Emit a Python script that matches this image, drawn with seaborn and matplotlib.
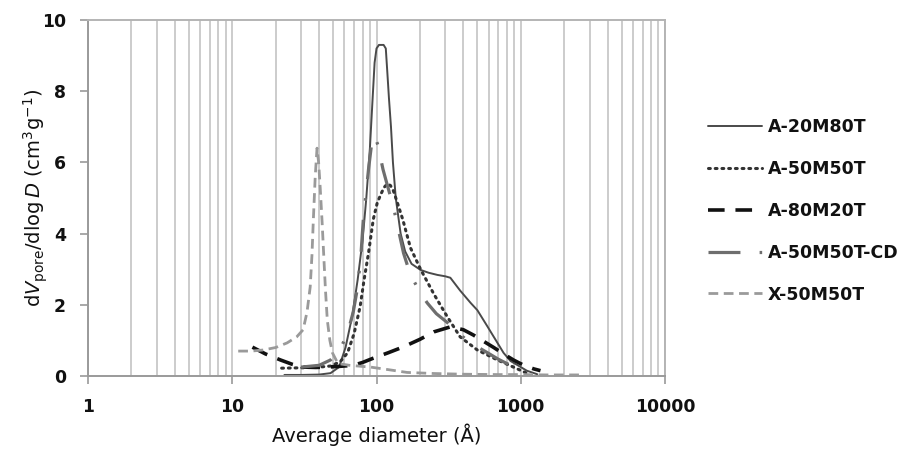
import matplotlib
matplotlib.use("Agg")
import matplotlib.pyplot as plt
import seaborn as sns
import numpy as np
from matplotlib.ticker import LogLocator, NullFormatter, FixedLocator

sns.set_theme(style="white")
plt.rcParams['font.family'] = ['DejaVu Sans']
plt.rcParams['mathtext.fontset'] = 'dejavusans'

# A-20M80T (solid)
d_a20 = [23, 30, 40, 48, 55, 61, 68, 74, 80, 85, 90, 94, 97, 100, 104, 108, 112, 116, 119, 122, 126, 130, 136, 147, 158, 175, 202, 230, 264, 300, 325, 380, 450, 500, 590, 650, 760, 850, 955, 1100, 1300]
v_a20 = [0.03, 0.03, 0.04, 0.08, 0.25, 0.8, 1.7, 2.7, 3.8, 5.0, 6.4, 7.8, 8.8, 9.2, 9.3, 9.3, 9.3, 9.2, 8.5, 7.8, 7.0, 6.0, 5.0, 4.0, 3.5, 3.15, 2.98, 2.9, 2.84, 2.8, 2.76, 2.4, 2.05, 1.85, 1.38, 1.1, 0.65, 0.42, 0.3, 0.15, 0.05]

# A-50M50T (dotted)
d_a50 = [22, 30, 40, 48, 56, 63, 70, 77, 82, 88, 95, 101, 107, 113, 119, 125, 131, 140, 152, 172, 202, 250, 310, 380, 500, 690, 890, 1100]
v_a50 = [0.22, 0.23, 0.25, 0.28, 0.4, 0.65, 1.2, 1.95, 2.7, 3.45, 4.4, 4.85, 5.1, 5.3, 5.4, 5.35, 5.2, 4.85, 4.4, 3.6, 3.0, 2.3, 1.66, 1.1, 0.73, 0.45, 0.25, 0.08]

# A-80M20T (dashed)
d_a80 = [13.8, 17, 21.6, 26, 31, 38, 45.6, 55, 69, 80, 95, 120, 154, 200, 250, 325, 400, 470, 550, 650, 760, 890, 1050, 1230, 1370]
v_a80 = [0.81, 0.62, 0.45, 0.33, 0.25, 0.24, 0.25, 0.27, 0.3, 0.38, 0.5, 0.65, 0.82, 1.03, 1.24, 1.38, 1.3, 1.15, 0.98, 0.8, 0.62, 0.45, 0.3, 0.2, 0.15]

# A-50M50T-CD (dash-dot)
d_cd = [30, 40, 48, 56, 63, 69, 74, 78, 81, 85, 88, 93, 97, 102, 111, 120, 131, 142, 154, 167, 180, 200, 225, 260, 310, 360, 425, 500, 590, 700, 850, 1000]
v_cd = [0.25, 0.3, 0.45, 0.75, 1.2, 1.8, 2.5, 3.4, 4.4, 5.2, 5.8, 6.6, 6.75, 6.5, 5.8, 5.3, 4.75, 4.1, 3.45, 3.0, 2.7, 2.35, 2.05, 1.75, 1.5, 1.25, 1.0, 0.82, 0.65, 0.47, 0.3, 0.12]

# X-50M50T (short dashes)
d_x = [11, 13.5, 16.4, 20, 24, 28, 31, 33, 34.7, 35.7, 36.5, 37.6, 38.7, 39.7, 40.7, 42, 43, 44.3, 45.6, 47.5, 49.5, 54, 65, 91, 120, 163, 250, 400, 700, 1000, 1500, 2000, 2700]
v_x = [0.7, 0.7, 0.73, 0.8, 0.93, 1.1, 1.3, 1.8, 2.5, 3.4, 4.4, 5.6, 6.4, 6.0, 5.3, 4.3, 3.45, 2.4, 1.57, 1.0, 0.65, 0.35, 0.3, 0.25, 0.18, 0.1, 0.07, 0.05, 0.04, 0.04, 0.03, 0.03, 0.03]

labels = ["A-20M80T", "A-50M50T", "A-80M20T", "A-50M50T-CD", "X-50M50T"]
x_ticks = [1, 10, 100, 1000, 10000]
y_ticks = [0, 2, 4, 6, 8, 10]

fig = plt.figure(figsize=(9.09, 4.54), dpi=100)
ax = fig.add_axes([88/909, 1-376/454, (665-88)/909, (376-20)/454])

series = [
    (d_a20, v_a20, dict(color="#4a4a4a", lw=1.4, linestyle="-")),
    (d_a50, v_a50, dict(color="#333333", lw=2.2, linestyle=(0, (0.6, 1.6)), dash_capstyle="round")),
    (d_a80, v_a80, dict(color="#111111", lw=2.6, linestyle=(0, (4.6, 3)))),
    (d_cd, v_cd, dict(color="#6e6e6e", lw=2.3, linestyle=(0, (10, 6, 0.8, 6)))),
    (d_x, v_x, dict(color="#9a9a9a", lw=2.0, linestyle=(0, (3.5, 2)))),
]
for (d, v, kw), lab in zip(series, labels):
    sns.lineplot(x=d, y=v, ax=ax, label=lab, sort=False, estimator=None, **kw)

ax.set_xscale("log")
ax.set_xlim(1, 10000)
ax.set_ylim(0, 10)

ax.xaxis.set_major_locator(FixedLocator(x_ticks))
ax.set_xticklabels([str(t) for t in x_ticks])
ax.xaxis.set_minor_locator(LogLocator(base=10, subs=np.arange(2, 10)))
ax.xaxis.set_minor_formatter(NullFormatter())
ax.set_yticks(y_ticks)
ax.set_yticklabels([str(t) for t in y_ticks])

ax.grid(False)
ax.grid(True, axis="x", which="both", color="#c4c4c4", lw=1.2)
ax.set_axisbelow(True)

for s in ["left", "bottom"]:
    ax.spines[s].set_color("#9a9a9a")
    ax.spines[s].set_linewidth(1.4)
for s in ["top", "right"]:
    ax.spines[s].set_color("#b4b4b4")
    ax.spines[s].set_linewidth(1.4)

ax.tick_params(axis="both", which="major", direction="out", length=6, width=1.2, color="#9a9a9a",
               labelsize=12.4, labelcolor="#111111")
ax.tick_params(axis="x", which="major", pad=10)
ax.tick_params(axis="y", which="major", pad=10)
ax.tick_params(axis="x", which="minor", length=0, bottom=False)
ax.tick_params(left=True, bottom=True)
for lbl in ax.get_xticklabels() + ax.get_yticklabels():
    lbl.set_fontweight("bold")

ax.set_xlabel("Average diameter (Å)", fontsize=14, color="#111111", labelpad=5)
ax.set_ylabel(r"d$\mathit{V}_{\mathrm{pore}}$/dlog$\,\mathit{D}$ (cm$^3$g$^{-1}$)", fontsize=14,
              color="#111111", labelpad=-6)

leg = ax.legend(loc="upper left", bbox_to_anchor=(1.062, 0.745), frameon=False, fontsize=12.5,
                labelspacing=1.38, handlelength=3.1, handletextpad=0.35, borderaxespad=0)
for t in leg.get_texts():
    t.set_fontweight("bold")
    t.set_color("#111111")

fig.savefig("out.png", dpi=100)
